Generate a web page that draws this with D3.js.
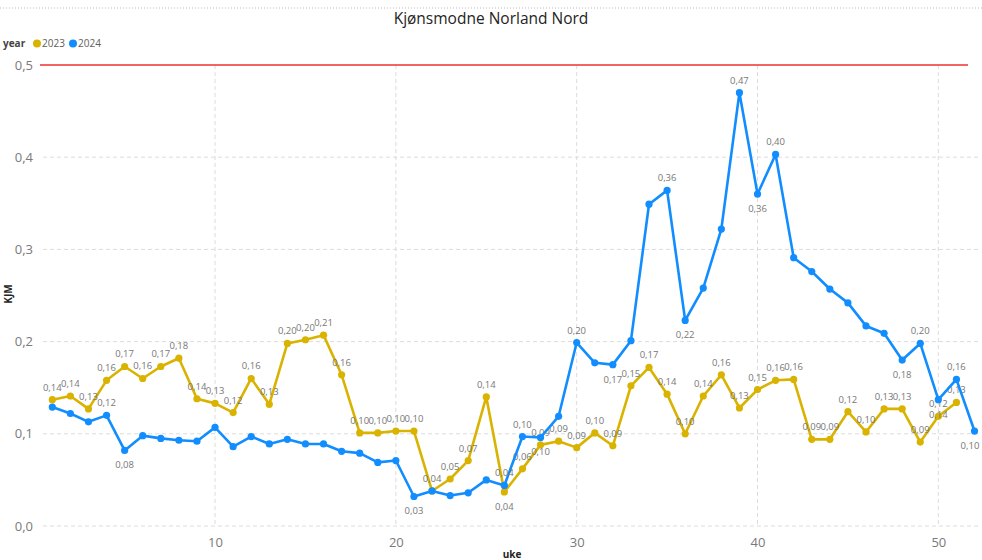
<!DOCTYPE html>
<html>
<head>
<meta charset="utf-8">
<script src="https://cdn.jsdelivr.net/npm/d3@7"></script>
<style>
  body { margin: 0; background: #fff; }
  text { font-family: "Open Sans", "Noto Sans", sans-serif; }
</style>
</head>
<body>
<script>
// data
var weeks = d3.range(1, 53);
var val2023 = [0.137, 0.141, 0.127, 0.158, 0.173, 0.160, 0.173, 0.182, 0.138, 0.133,
               0.123, 0.160, 0.132, 0.198, 0.202, 0.207, 0.164, 0.101, 0.101, 0.103,
               0.103, 0.038, 0.051, 0.071, 0.140, 0.037, 0.062, 0.088, 0.092, 0.085,
               0.101, 0.087, 0.152, 0.172, 0.143, 0.100, 0.141, 0.164, 0.128, 0.148,
               0.158, 0.159, 0.094, 0.094, 0.124, 0.102, 0.127, 0.127, 0.091, 0.119,
               0.134];
var val2024 = [0.129, 0.122, 0.113, 0.120, 0.082, 0.098, 0.095, 0.093, 0.092, 0.107,
               0.086, 0.097, 0.089, 0.094, 0.089, 0.089, 0.081, 0.079, 0.069, 0.071,
               0.032, 0.038, 0.033, 0.036, 0.050, 0.044, 0.097, 0.096, 0.119, 0.199,
               0.177, 0.175, 0.201, 0.349, 0.364, 0.223, 0.258, 0.322, 0.470, 0.360,
               0.403, 0.291, 0.276, 0.257, 0.242, 0.217, 0.209, 0.180, 0.198, 0.137,
               0.159, 0.103];
var yTicks = [0, 0.1, 0.2, 0.3, 0.4, 0.5];
var xTicks = [10, 20, 30, 40, 50];
var refLine = 0.5;
// hvilke punkter som har etikett
var lab2023 = weeks.slice(0, 51);
var below2023 = [26];
var lab2024 = [4, 5, 21, 26, 27, 28, 30, 32, 35, 36, 39, 40, 41, 48, 49, 50, 51, 52];
var below2024 = [5, 21, 28, 32, 36, 40, 48, 50, 52];

var w = 982, h = 560;
var col23 = "#D9B300", col24 = "#118DFF";
var fmt = function(d){ return d3.format(".2f")(d).replace(".", ","); };

var svg = d3.select("body").append("svg")
            .attr("width", w)
            .attr("height", h);

// topplinje
svg.append("line")
   .attr("x1", 0).attr("x2", w).attr("y1", 8).attr("y2", 8)
   .attr("stroke", "#bbb").attr("stroke-dasharray", "1,2");

svg.append("text")
   .attr("x", 491).attr("y", 24)
   .attr("text-anchor", "middle")
   .attr("font-size", 15.5)
   .attr("fill", "#252423")
   .text("Kjønsmodne Norland Nord");

// legend
var lg = svg.append("g").attr("transform", "translate(3,47)");
lg.append("text").attr("x", 0).attr("y", 0).attr("font-size", 10)
  .attr("font-weight", "bold").attr("fill", "#444").text("year");
[["2023", col23, 34], ["2024", col24, 70]].forEach(function(l){
  lg.append("circle").attr("cx", l[2]).attr("cy", -3.5).attr("r", 4).attr("fill", l[1]);
  lg.append("text").attr("x", l[2] + 5).attr("y", 0).attr("font-size", 10)
    .attr("fill", "#605E5C").text(l[0]);
});

var x = d3.scaleLinear().domain([1, 52]).range([52.3, 974.5]);
var y = d3.scaleLinear().domain([0, 0.5]).range([526, 65]);
var left = 43, right = 978;

// grid
svg.append("g").selectAll("line").data(yTicks.filter(function(d){ return d < refLine; }))
   .enter().append("line")
   .attr("x1", left).attr("x2", right)
   .attr("y1", function(d){ return y(d); }).attr("y2", function(d){ return y(d); })
   .attr("stroke", "#dcdcdc").attr("stroke-dasharray", "4,3");
svg.append("g").selectAll("line").data(xTicks)
   .enter().append("line")
   .attr("x1", function(d){ return x(d); }).attr("x2", function(d){ return x(d); })
   .attr("y1", y(0.5)).attr("y2", y(0))
   .attr("stroke", "#dcdcdc").attr("stroke-dasharray", "4,3");

// akser
var yAxis = svg.append("g").attr("transform", "translate(36,0)")
   .call(d3.axisLeft(y).tickValues(yTicks).tickSize(0)
          .tickFormat(function(d){ return d3.format(".1f")(d).replace(".", ","); }));
var xAxis = svg.append("g").attr("transform", "translate(0,532)")
   .call(d3.axisBottom(x).tickValues(xTicks).tickSize(0));
[yAxis, xAxis].forEach(function(a){
  a.select(".domain").remove();
  a.selectAll("text").attr("font-size", 13).attr("fill", "#7a7a7a")
   .attr("font-family", "Open Sans, sans-serif");
});
xAxis.selectAll("text").attr("dy", "0.9em");

svg.append("text")
   .attr("transform", "translate(12,294) rotate(-90)")
   .attr("text-anchor", "middle").attr("font-size", 10).attr("font-weight", "bold")
   .attr("fill", "#252423").text("KJM");
svg.append("text")
   .attr("x", 512).attr("y", 558)
   .attr("text-anchor", "middle").attr("font-size", 10).attr("font-weight", "bold")
   .attr("fill", "#252423").text("uke");

// rød konstantlinje
svg.append("line")
   .attr("x1", 40).attr("x2", 968)
   .attr("y1", y(refLine)).attr("y2", y(refLine))
   .attr("stroke", "#F0302C").attr("stroke-width", 1.3);

var line = d3.line()
   .x(function(d){ return x(d.week); })
   .y(function(d){ return y(d.val); });

var series = [
  { name: "2023", color: col23, vals: val2023, lab: lab2023, below: below2023 },
  { name: "2024", color: col24, vals: val2024, lab: lab2024, below: below2024 }
];

series.forEach(function(s){
  var pts = s.vals.map(function(v, i){ return { week: weeks[i], val: v }; });
  var g = svg.append("g");
  g.append("path").datum(pts)
   .attr("d", line)
   .attr("fill", "none").attr("stroke", s.color).attr("stroke-width", 2.6)
   .attr("stroke-linejoin", "round");
  g.selectAll("circle").data(pts).enter().append("circle")
   .attr("cx", function(d){ return x(d.week); })
   .attr("cy", function(d){ return y(d.val); })
   .attr("r", 3.6).attr("fill", s.color);
  g.selectAll("text").data(pts.filter(function(d){ return s.lab.indexOf(d.week) >= 0; }))
   .enter().append("text")
   .attr("x", function(d){ return Math.min(x(d.week), w - 12); })
   .attr("y", function(d){
      return s.below.indexOf(d.week) >= 0 ? y(d.val) + 18 : y(d.val) - 9;
   })
   .attr("text-anchor", "middle").attr("font-size", 9.5).attr("fill", "#777")
   .text(function(d){ return fmt(d.val); });
});
</script>
</body>
</html>
